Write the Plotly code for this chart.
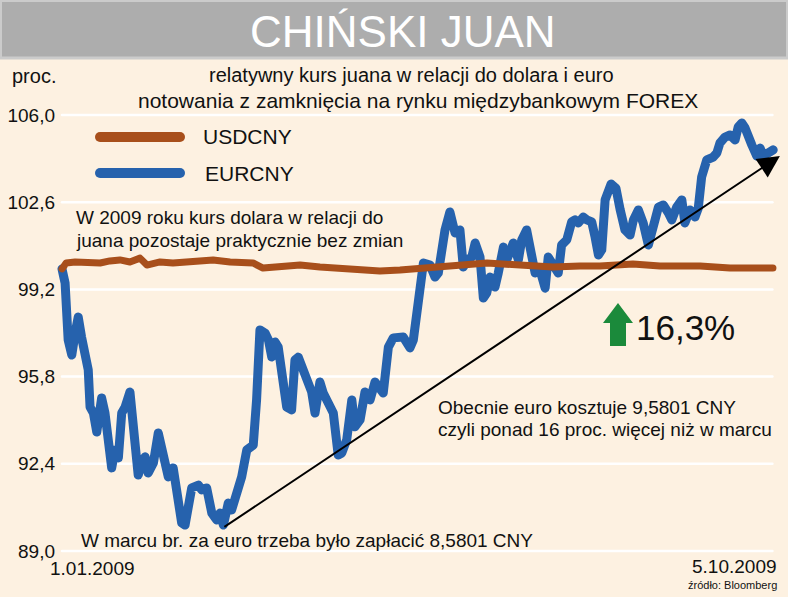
import plotly.graph_objects as go

# ---------------- data ----------------
# day offsets since 1.01.2009, relative rate (100 = 1.01.2009)
eur_days = [0, 1.2, 2.4, 3.8, 5.1, 6.3, 7.6, 8.9, 10.2, 10.9,
            12.2, 13.5, 15.4, 16.7, 18.0, 19.3, 20.6, 21.9, 23.2, 24.5,
            26.4, 27.7, 29.0, 29.6, 31.6, 32.3, 33.5, 35.5, 37.4, 39.4,
            41.3, 43.2, 44.6, 46.5, 47.8, 49.1, 50.4, 53.0, 54.3, 56.2,
            58.2, 60.1, 61.4, 62.7, 64.6, 65.9, 67.9, 69.8, 71.8, 74.3,
            75.6, 76.9, 78.9, 80.2, 81.5, 82.8, 84.0, 85.4, 87.3, 89.2,
            90.5, 91.8, 93.8, 95.7, 97.0, 98.3, 100.2, 101.5, 103.5, 105.4,
            107.3, 108.7, 110.6, 112.6, 113.8, 115.8, 117.7, 119.7, 121.6, 123.5,
            124.8, 126.8, 128.7, 132.6, 135.2, 136.5, 138.4, 140.4, 143.0, 144.9,
            146.2, 147.5, 148.8, 150.7, 152.7, 154.6, 155.9, 157.2, 159.2, 160.5,
            162.4, 163.7, 165.0, 166.3, 168.2, 169.5, 171.5, 172.8, 174.1, 175.3,
            177.3, 178.6, 180.5, 182.5, 183.8, 185.7, 187.7, 188.9, 190.3, 192.8,
            194.1, 196.1, 198.0, 199.3, 200.6, 202.5, 203.9, 205.8, 207.1, 208.4,
            209.7, 211.0, 213.3, 215.2, 216.8, 218.7, 220.7, 222.0, 223.9, 225.8,
            227.8, 229.1, 230.4, 231.7, 233.6, 235.6, 236.9, 238.8, 240.8, 242.0,
            244.0, 245.9, 247.2, 248.5, 250.5, 253.0, 254.4, 255.6, 257.6, 259.5,
            261.5, 262.7, 264.1, 265.4, 266.6, 268.0, 269.9, 271.2, 272.5, 274.4, 276.3]
eur_values = [100.0, 99.45, 97.23, 96.64, 97.50, 98.12, 97.34, 96.45, 96.06, 94.61,
              94.38, 93.64, 94.97, 94.38, 93.33, 92.24, 92.94, 92.63, 94.38, 94.61,
              95.20, 93.99, 92.67, 91.96, 92.55, 92.67, 92.04, 92.43, 93.60, 92.67,
              91.89, 92.24, 91.38, 90.09, 90.01, 90.87, 91.46, 91.57, 91.38, 91.46,
              90.48, 90.21, 90.48, 90.01, 90.87, 90.60, 91.26, 91.89, 92.94, 93.13,
              94.89, 97.62, 97.50, 97.23, 96.56, 97.15, 96.95, 96.06, 94.61, 94.50,
              96.45, 96.56, 95.94, 95.39, 95.20, 94.38, 95.59, 95.16, 94.77, 94.38,
              92.74, 92.82, 93.33, 94.89, 93.84, 94.11, 95.20, 94.89, 95.59, 95.28,
              95.16, 96.95, 97.31, 97.34, 96.92, 97.23, 98.79, 100.23, 100.15, 99.68,
              99.84, 100.74, 101.52, 102.22, 101.40, 101.52, 100.07, 100.35, 100.46, 101.01,
              100.46, 98.86, 99.06, 99.68, 99.29, 99.84, 100.85, 100.35, 100.62, 101.01,
              100.35, 101.13, 101.52, 100.46, 99.84, 99.96, 99.25, 100.46, 100.23, 99.84,
              100.93, 101.13, 101.83, 101.91, 101.79, 102.02, 101.91, 101.83, 101.24, 100.54,
              100.74, 102.69, 103.31, 103.15, 102.33, 101.52, 101.32, 101.91, 102.30, 101.79,
              100.93, 101.63, 101.91, 102.41, 102.49, 102.18, 101.91, 102.41, 102.69, 101.79,
              102.30, 102.02, 102.37, 103.58, 104.25, 104.36, 104.52, 104.91, 105.14, 105.22,
              105.03, 105.53, 105.69, 105.49, 105.03, 104.83, 104.40, 104.71, 104.40, 104.52, 104.64]

usd_days = [0, 1.6, 5.1, 8.9, 14.8, 18.6, 22.5, 26.4, 30.3, 33.0,
            38.1, 43.1, 49.7, 58.7, 65.3, 74.2, 78.1, 84.6, 92.5, 100.2,
            110.7, 117.7, 123.5, 131.3, 139.1, 151.9, 165.1, 177.9, 190.7, 201.2,
            209.0, 221.8, 232.3, 247.9, 259.5, 276.2]
usd_values = [100.0, 100.23, 100.27, 100.23, 100.23, 100.31, 100.35, 100.27, 100.42, 100.15,
              100.27, 100.23, 100.27, 100.35, 100.27, 100.23, 100.03, 100.11, 100.15, 100.07,
              100.03, 99.96, 99.92, 99.96, 100.03, 100.15, 100.23, 100.15, 100.07, 100.11,
              100.11, 100.19, 100.11, 100.11, 100.03, 100.03]

y_tickvals = [106.0, 102.6, 99.2, 95.8, 92.4, 89.0]
y_ticktext = ["106,0", "102,6", "99,2", "95,8", "92,4", "89,0"]
series_names = ["USDCNY", "EURCNY"]

# arrow from the March low to today
arrow_start = (62.5, 89.90)
arrow_end = (278.9, 104.40)

# ---------------- layout helpers ----------------
W, H = 788, 597
ML, MR, MT, MB = 56, 0, 108, 40
X0PX, X1PX, D0, D1 = 62, 775, 0, 277
Y0PX, Y1PX, V0, V1 = 551, 115, 89.0, 106.0


def xd(px):
    return D0 + (px - X0PX) * (D1 - D0) / (X1PX - X0PX)


def yd(py):
    return V0 + (Y0PX - py) * (V1 - V0) / (Y0PX - Y1PX)


def xp(px):
    return (px - ML) / (W - ML - MR)


def yp(py):
    return (H - MB - py) / (H - MT - MB)


FONT = "Liberation Sans, Arial, sans-serif"
BG = "#FDF1E1"
BLUE = "#2662AD"
BROWN = "#A84F1B"
TXT = "#111111"

fig = go.Figure()
fig.add_trace(go.Scatter(x=eur_days, y=eur_values, mode="lines", name=series_names[1],
                         line=dict(color=BLUE, width=9), showlegend=False, hoverinfo="skip"))
fig.add_trace(go.Scatter(x=usd_days, y=usd_values, mode="lines", name=series_names[0],
                         line=dict(color=BROWN, width=7), showlegend=False, hoverinfo="skip"))

shapes = []
# title band
shapes.append(dict(type="rect", xref="paper", yref="paper", x0=xp(0.5), x1=xp(787.5),
                   y0=yp(58), y1=yp(0.5), fillcolor="#ADADAD",
                   line=dict(color="#CBCBCB", width=3), layer="below"))
# grid lines
for v in y_tickvals:
    shapes.append(dict(type="line", xref="x", yref="y", x0=D0, x1=276, y0=v, y1=v,
                       line=dict(color="white", width=2.5), layer="below"))
# legend samples
shapes.append(dict(type="line", xref="paper", yref="paper", x0=xp(100), x1=xp(180),
                   y0=yp(137), y1=yp(137), line=dict(color=BROWN, width=10)))
shapes.append(dict(type="line", xref="paper", yref="paper", x0=xp(100), x1=xp(180),
                   y0=yp(173), y1=yp(173), line=dict(color=BLUE, width=10)))
# green up arrow
pts = [(618, 303), (633, 323), (626, 323), (626, 346), (610, 346), (610, 323), (603, 323)]
path = "M " + " L ".join(f"{xp(a):.5f},{yp(b):.5f}" for a, b in pts) + " Z"
shapes.append(dict(type="path", xref="paper", yref="paper", path=path,
                   fillcolor="#1B8A3B", line=dict(width=0)))

anns = []


def ann(text, px, py, xanchor="left", size=19, color=TXT):
    anns.append(dict(text=text, x=xp(px), y=yp(py), xref="paper", yref="paper",
                     xanchor=xanchor, yanchor="middle", showarrow=False,
                     font=dict(family=FONT, size=size, color=color)))


ann("CHIŃSKI JUAN", 403, 32, "center", 44, "white")
ann("relatywny kurs juana w relacji do dolara i euro", 411, 75, "center", 20)
ann("notowania z zamknięcia na rynku międzybankowym FOREX", 418, 100, "center", 21)
ann("proc.", 10, 76, "left", 20)
ann(series_names[0], 201, 137, "left", 21)
ann(series_names[1], 203, 173, "left", 21)
ann("W 2009 roku kurs dolara w relacji do", 74, 217, "left", 19)
ann("juana pozostaje praktycznie bez zmian", 74, 240, "left", 19)
ann("W marcu br. za euro trzeba było zapłacić 8,5801 CNY", 79, 540, "left", 19)
ann("Obecnie euro kosztuje 9,5801 CNY", 436, 407, "left", 19)
ann("czyli ponad 16 proc. więcej niż w marcu", 436, 430, "left", 19)
ann("16,3%", 634, 327, "left", 35)
ann("1.01.2009", 48, 568, "left", 19)
ann("5.10.2009", 779, 566, "right", 19)
ann("źródło: Bloomberg", 779, 585, "right", 11)

anns.append(dict(x=arrow_end[0], y=arrow_end[1], ax=arrow_start[0], ay=arrow_start[1],
                 xref="x", yref="y", axref="x", ayref="y", text="", showarrow=True,
                 arrowhead=2, arrowsize=2.2, arrowwidth=2, arrowcolor="black", standoff=0))

fig.update_layout(
    width=W, height=H, margin=dict(l=ML, r=MR, t=MT, b=MB),
    paper_bgcolor=BG, plot_bgcolor=BG,
    shapes=shapes, annotations=anns, showlegend=False,
    xaxis=dict(range=[xd(ML), xd(W - MR)], showgrid=False, zeroline=False,
               showticklabels=False, ticks="", showline=False, fixedrange=True),
    yaxis=dict(range=[yd(H - MB), yd(MT)], showgrid=False, zeroline=False,
               tickvals=y_tickvals, ticktext=y_ticktext, ticks="", showline=False,
               tickfont=dict(family=FONT, size=19, color=TXT), fixedrange=True),
)

css = ("var s=document.createElement('style');"
       "s.innerHTML='html,body{margin:0;padding:0;background:" + BG + ";}"
       " .js-line{stroke-linejoin:round;stroke-linecap:round}"
       " .shapelayer path{stroke-linecap:round}';"
       "document.head.appendChild(s);")
fig.write_html("out.html", post_script=css, config={"displayModeBar": False})
